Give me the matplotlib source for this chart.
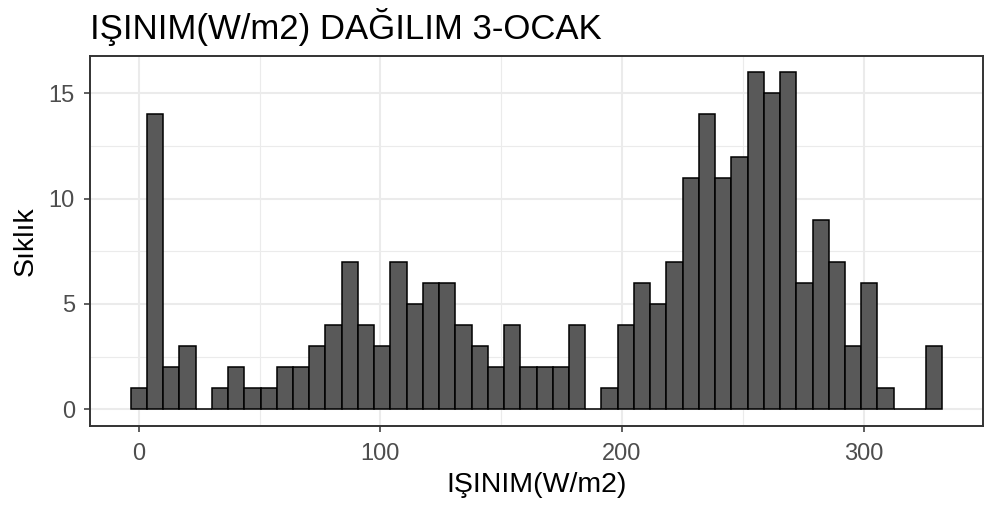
import numpy as np
import matplotlib
matplotlib.use('Agg')
import matplotlib.pyplot as plt
from matplotlib.ticker import MultipleLocator

# histogram counts, 50 bins
counts = [1, 14, 2, 3, 0, 1, 2, 1, 1, 2,
          2, 3, 4, 7, 4, 3, 7, 5, 6, 6,
          4, 3, 2, 4, 2, 2, 2, 4, 0, 1,
          4, 6, 5, 7, 11, 14, 11, 12, 16, 15,
          16, 6, 9, 7, 3, 6, 1, 0, 0, 3]
firstCenter = 0.0
lastCenter = 329.3
xTicks = [0, 100, 200, 300]
yTicks = [0, 5, 10, 15]

title = 'IŞINIM(W/m2) DAĞILIM 3-OCAK'
xTitle = 'IŞINIM(W/m2)'
yTitle = 'Sıklık'

plt.rcParams['font.family'] = ['Liberation Sans', 'DejaVu Sans']

fig = plt.figure(figsize=(9.84, 5.13), dpi=100)
ax = fig.add_axes([0.0915, 0.1696, 0.9075, 0.7222])

centers = np.linspace(firstCenter, lastCenter, len(counts))
binWidth = centers[1] - centers[0]
ax.bar(centers, counts, width=binWidth, color='#595959', edgecolor='black',
       linewidth=1.1, zorder=3)

# ggplot style expansion (5%)
lo, hi = centers[0] - binWidth / 2, centers[-1] + binWidth / 2
ax.set_xlim(lo - 0.05 * (hi - lo), hi + 0.05 * (hi - lo))
ymax = max(counts)
ax.set_ylim(-0.05 * ymax, ymax * 1.05)

ax.set_xticks(xTicks)
ax.set_yticks(yTicks)
ax.xaxis.set_minor_locator(MultipleLocator(50))
ax.yaxis.set_minor_locator(MultipleLocator(2.5))
ax.grid(True, which='major', color='#EBEBEB', linewidth=1.5, zorder=0)
ax.grid(True, which='minor', color='#EBEBEB', linewidth=0.8, zorder=0)
ax.set_axisbelow(True)

for s in ax.spines.values():
  s.set_color('#333333')
  s.set_linewidth(1.4)

ax.tick_params(which='major', length=4.5, width=1.1, color='#333333',
               labelsize=17, labelcolor='#4D4D4D')
ax.tick_params(axis='x', pad=8)
ax.tick_params(axis='y', pad=6.5)
ax.tick_params(which='minor', length=0)

ax.set_xlabel(xTitle, fontsize=20.5, labelpad=5)
ax.set_ylabel(yTitle, fontsize=20.5, labelpad=7)
ax.set_title(title, loc='left', fontsize=25, pad=12)

fig.savefig('out.png', dpi=100)
